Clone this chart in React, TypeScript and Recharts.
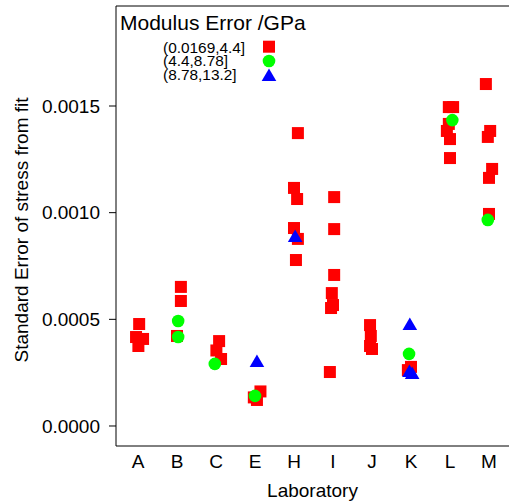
import React from 'react';
import { ScatterChart, Scatter, XAxis, YAxis, ReferenceLine, Customized } from 'recharts';

const labs = ['A', 'B', 'C', 'E', 'H', 'I', 'J', 'K', 'L', 'M'];
const yTicks = [0, 0.0005, 0.001, 0.0015];
const groupNames = ['(0.0169,4.4]', '(4.4,8.78]', '(8.78,13.2]'];

// [laboratory, horizontal jitter (category units), standard error]
const lowPts: [string, number, number][] = [
  ['A', 0.03, 0.000478], ['A', -0.05, 0.000417], ['A', 0.13, 0.000408], ['A', 0.01, 0.000375],
  ['B', 0.1, 0.000652], ['B', 0.1, 0.000586], ['B', 0.0, 0.000422],
  ['C', 0.08, 0.000398], ['C', 0.01, 0.000354], ['C', 0.13, 0.000314],
  ['E', 0.14, 0.000162], ['E', -0.03, 0.000134], ['E', 0.05, 0.000122],
  ['H', 0.1, 0.001373], ['H', 0.0, 0.001116], ['H', 0.08, 0.001064], ['H', 0.0, 0.000928], ['H', 0.1, 0.000877], ['H', 0.05, 0.000778],
  ['I', 0.03, 0.001073], ['I', 0.03, 0.000923], ['I', 0.03, 0.000708], ['I', -0.03, 0.000623], ['I', 0.0, 0.000567], ['I', -0.05, 0.000553], ['I', -0.08, 0.000253],
  ['J', -0.05, 0.000473], ['J', -0.03, 0.000422], ['J', -0.05, 0.000375], ['J', 0.0, 0.000361],
  ['K', 0.0, 0.000277], ['K', -0.08, 0.000262],
  ['L', -0.03, 0.001495], ['L', 0.08, 0.001495], ['L', -0.03, 0.001416], ['L', -0.08, 0.001383], ['L', 0.0, 0.001345], ['L', 0.0, 0.001256],
  ['M', -0.08, 0.001603], ['M', 0.03, 0.001383], ['M', -0.03, 0.001355], ['M', 0.08, 0.001205], ['M', 0.0, 0.001163], ['M', 0.0, 0.000994],
];
const midPts: [string, number, number][] = [
  ['B', 0.03, 0.000492], ['B', 0.03, 0.000417],
  ['C', -0.03, 0.000291],
  ['E', 0.0, 0.000141],
  ['K', -0.05, 0.000338],
  ['L', 0.06, 0.001434],
  ['M', -0.03, 0.000966],
];
const highPts: [string, number, number][] = [
  ['E', 0.05, 0.000305],
  ['H', 0.03, 0.000891],
  ['K', -0.03, 0.000478], ['K', -0.04, 0.000258], ['K', 0.03, 0.000248],
];

const toRows = (pts: [string, number, number][]) =>
  pts.map(([lab, j, v]) => ({ x: labs.indexOf(lab) + 1 + j, y: v }));

const lowData = toRows(lowPts);
const midData = toRows(midPts);
const highData = toRows(highPts);

const RED = '#FF0000';
const GREEN = '#00FF00';
const BLUE = '#0000FF';
const FONT = '"Liberation Sans", Arial, sans-serif';

const Square = (p: any) => <rect x={p.cx - 6} y={p.cy - 6} width={12} height={12} fill={RED} />;
const Dot = (p: any) => <circle cx={p.cx} cy={p.cy} r={6.3} fill={GREEN} />;
const Tri = (p: any) => (
  <polygon
    points={`${p.cx},${p.cy - 6.5} ${p.cx - 7.3},${p.cy + 6} ${p.cx + 7.3},${p.cy + 6}`}
    fill={BLUE}
  />
);

const X_MIN = 0.436;
const X_MAX = 10.513;
const Y_MIN = -0.0000938;
const Y_MAX = 0.0019688;

const Overlay = () => (
  <g fontFamily={FONT} fill="#000">
    <text x={28} y={230} fontSize={19} textAnchor="middle" transform="rotate(-90 28 230)">
      Standard Error of stress from fit
    </text>
    <text x={120} y={30} fontSize={21}>Modulus Error /GPa</text>
    {groupNames.map((g, i) => (
      <text key={g} x={163} y={52.5 + i * 13.5} fontSize={15.4}>{g}</text>
    ))}
    <rect x={263} y={40.7} width={12} height={12} fill={RED} />
    <circle cx={269} cy={61} r={6.3} fill={GREEN} />
    <polygon points={`269,68.5 261.7,81 276.3,81`} fill={BLUE} />
  </g>
);

export default function App() {
  return (
    <div style={{ position: 'absolute', left: 0, top: 0 }}>
      <ScatterChart width={509} height={504} margin={{ top: 6, right: 0, bottom: 0, left: 0 }}>
        <XAxis
          type="number"
          dataKey="x"
          domain={[X_MIN, X_MAX]}
          ticks={[1, 2, 3, 4, 5, 6, 7, 8, 9, 10]}
          tickFormatter={(v: number) => labs[Math.round(v) - 1]}
          allowDataOverflow
          height={58}
          tickLine={false}
          tickSize={6}
          tickMargin={3}
          axisLine={{ stroke: '#000' }}
          tick={{ fill: '#000', fontSize: 19, fontFamily: FONT }}
          interval={0}
          label={{ value: 'Laboratory', position: 'insideBottom', offset: 7, fill: '#000', fontSize: 19, fontFamily: FONT }}
        />
        <YAxis
          type="number"
          dataKey="y"
          domain={[Y_MIN, Y_MAX]}
          ticks={yTicks}
          tickFormatter={(v: number) => v.toFixed(4)}
          allowDataOverflow
          width={116}
          tickSize={7}
          tickMargin={9}
          tickLine={{ stroke: '#000' }}
          axisLine={{ stroke: '#000' }}
          tick={{ fill: '#000', fontSize: 19, fontFamily: FONT }}
          interval={0}
        />
        <ReferenceLine y={Y_MAX} stroke="#000" ifOverflow="visible" />
        <Scatter data={lowData} shape={Square} isAnimationActive={false} />
        <Scatter data={midData} shape={Dot} isAnimationActive={false} />
        <Scatter data={highData} shape={Tri} isAnimationActive={false} />
        <Customized component={Overlay} />
      </ScatterChart>
    </div>
  );
}
